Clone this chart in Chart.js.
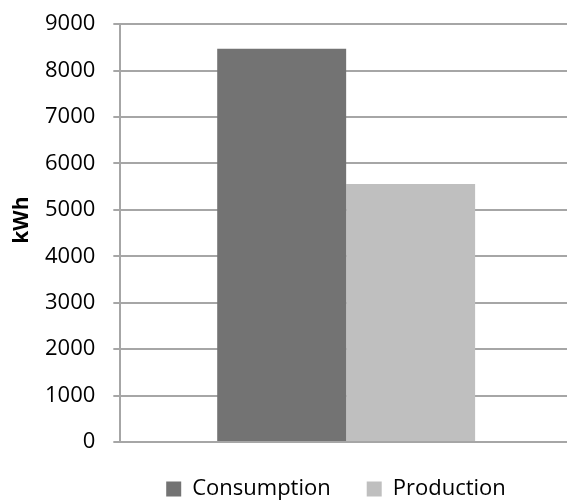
<!DOCTYPE html>
<html>
<head>
<meta charset="utf-8">
<script src="https://cdn.jsdelivr.net/npm/chart.js@4"></script>
<style>
  html, body { margin: 0; padding: 0; background: #ffffff; overflow: hidden; }
  #wrap { width: 567px; height: 502px; overflow: hidden; position: relative; }
  #box { width: 572px; height: 517px; position: absolute; left: 0; top: -7px; }
</style>
</head>
<body>
<div id="wrap"><div id="box"><canvas id="chart"></canvas></div></div>
<script>
// Annual energy totals
const categories = [''];
const seriesNames = ['Consumption', 'Production'];
const consumption = [8470];
const production = [5560];
const yTicks = [0, 1000, 2000, 3000, 4000, 5000, 6000, 7000, 8000, 9000];
const yTitle = 'kWh';

const FONT = '"Open Sans", Lato, sans-serif';
const gridColor = '#a6a6a6';

// Vertical axis title, drawn in the left margin slightly above the plot's middle
const axisTitle = {
  id: 'axisTitle',
  afterDraw(chart) {
    const { ctx, chartArea } = chart;
    const cy = (chartArea.top + chartArea.bottom) / 2 - 13;
    ctx.save();
    ctx.translate(22, cy);
    ctx.rotate(-Math.PI / 2);
    ctx.font = 'bold 21px ' + FONT;
    ctx.fillStyle = '#000000';
    ctx.textAlign = 'center';
    ctx.textBaseline = 'middle';
    ctx.fillText(yTitle, 0, 0);
    ctx.restore();
  }
};

// Nudge the bottom legend to the right so it sits under the bars
const legendShift = {
  id: 'legendShift',
  afterLayout(chart) {
    const lg = chart.legend;
    if (lg) { lg.left += 36.5; lg.right += 36.5; }
  }
};

new Chart(document.getElementById('chart'), {
  type: 'bar',
  data: {
    labels: categories,
    datasets: [
      { label: seriesNames[0], data: consumption, backgroundColor: '#737373', borderWidth: 0 },
      { label: seriesNames[1], data: production, backgroundColor: '#bfbfbf', borderWidth: 0 }
    ]
  },
  options: {
    responsive: true,
    maintainAspectRatio: false,
    animation: false,
    layout: { padding: { top: 0, left: 27, right: 0, bottom: 0 } },
    datasets: { bar: { categoryPercentage: 0.571, barPercentage: 1.0 } },
    plugins: {
      tooltip: { enabled: false },
      legend: {
        position: 'bottom',
        labels: {
          font: { family: FONT, size: 22 },
          color: '#000000',
          boxWidth: 15,
          boxHeight: 15,
          padding: 36
        }
      }
    },
    scales: {
      x: {
        grid: { display: false, drawTicks: false },
        border: { display: false },
        ticks: { display: false },
        afterFit: (axis) => { axis.height = 0; }
      },
      y: {
        min: 0,
        max: 9000,
        afterBuildTicks: (axis) => { axis.ticks = yTicks.map(v => ({ value: v })); },
        grid: { color: gridColor, lineWidth: 2, tickLength: 7, drawTicks: true },
        border: { display: true, color: gridColor, width: 2 },
        ticks: {
          font: { family: FONT, size: 22 },
          color: '#000000',
          padding: 18,
          callback: (v) => String(v)
        },
        title: { display: false }
      }
    }
  },
  plugins: [axisTitle, legendShift]
});
</script>
</body>
</html>
